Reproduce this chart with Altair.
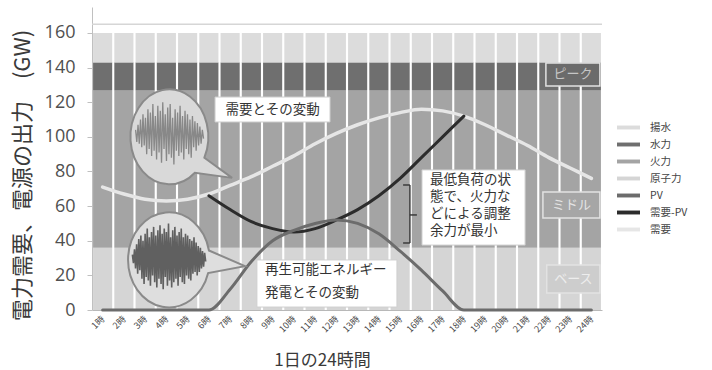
import itertools

import altair as alt
import pandas as pd

JP = "Noto Sans CJK JP"

# hours of the day
HOURS = list(range(1, 25))

# supply stack, bottom to top (GW)
SUPPLY_NAMES = ["原子力", "火力", "水力", "揚水"]
SUPPLY_GW = [36, 91, 16, 17]

# demand and PV output per hour (GW)
DEMAND = [71, 67, 64, 63, 64, 67, 72, 77, 83, 89, 96, 102,
          107, 111, 114, 116, 115, 112, 107, 101, 95, 88, 82, 76]
PV_OUT = [0, 0, 0, 0, 0, 0, 12, 28, 40, 46, 50, 52,
          50, 44, 34, 23, 11, 0, 0, 0, 0, 0, 0, 0]

# demand net of PV over the daylight hours (GW)
NET_HOURS = list(range(6, 19))
NET_DEMAND = [66, 58, 51, 47, 45, 47, 52, 58, 66, 76, 88, 100, 112]

LEGEND_ORDER = ["揚水", "水力", "火力", "原子力", "PV", "需要-PV", "需要"]
LEGEND_COLORS = ["#dcdcdc", "#6f6f6f", "#a4a4a4", "#d5d5d5",
                 "#6c6c6c", "#2c2c2c", "#e6e6e6"]

# fluctuation sketches drawn inside the two bubbles (GW deviation)
DEMAND_SWING = [3, -4, 6, -5, 9, -7, 12, -6, 10, -11, 15, -8, 13, -12, 18, -9,
                11, -14, 17, -10, 14, -16, 19, -8, 12, -15, 16, -11, 18, -13,
                10, -17, 15, -9, 13, -12, 17, -10, 11, -14, 14, -8, 12, -11,
                9, -13, 11, -7, 8, -9, 7, -6, 5, -5, 3, -2]
RENEW_SWING = [2, -3, 5, -6, 8, -9, 11, -7, 13, -12, 10, -15, 14, -11, 17, -13,
               12, -16, 15, -10, 18, -14, 13, -17, 16, -12, 19, -15, 14, -18,
               17, -11, 15, -16, 20, -13, 12, -17, 16, -14, 18, -12, 13, -16,
               15, -11, 17, -14, 12, -15, 14, -10, 13, -12, 11, -13, 10, -9,
               12, -8, 9, -10, 7, -8, 6, -6, 4, -5, 3, -2]

# ---- tables -------------------------------------------------------------
tops = list(itertools.accumulate(SUPPLY_GW))
bottoms = [0] + tops[:-1]
supply_df = pd.DataFrame(
    [{"hour": h, "series": n, "lo": lo, "hi": hi}
     for h in HOURS for n, lo, hi in zip(SUPPLY_NAMES, bottoms, tops)]
)
demand_df = pd.DataFrame({"hour": HOURS, "value": DEMAND, "series": "需要"})
pv_df = pd.DataFrame({"hour": HOURS, "value": PV_OUT, "series": "PV"})
net_df = pd.DataFrame({"hour": NET_HOURS, "value": NET_DEMAND, "series": "需要-PV"})


def swing_table(values, x0, x1, y0):
    n = len(values)
    return pd.DataFrame({
        "x": [x0 + (x1 - x0) * i / (n - 1) for i in range(n)],
        "y": [y0 + v for v in values],
    })


# ---- scales and guides --------------------------------------------------
x_scale = alt.Scale(domain=[0.5, 24.5], nice=False, zero=False)
y_scale = alt.Scale(domain=[0, 175], nice=False)
color_scale = alt.Scale(domain=LEGEND_ORDER, range=LEGEND_COLORS)

X_TITLE = "1日の24時間"
Y_TITLE = "電力需要、電源の出力　(GW)"

x_axis = alt.Axis(
    values=HOURS, labelExpr="datum.value + '時'", labelAngle=315,
    labelAlign="right", labelBaseline="middle", labelFont=JP,
    labelFontSize=9, labelColor="#4a4a4a", labelPadding=7, labelOverlap=False,
    labelBound=False, ticks=False, grid=False, domainColor="#b8b8b8",
    title=X_TITLE, titleFont=JP, titleFontSize=17,
    titleFontWeight="normal", titleColor="#3a3a3a",
    titleX=230, titleY=50, titleAlign="center", titleBaseline="middle",
)
y_axis = alt.Axis(
    values=[0, 20, 40, 60, 80, 100, 120, 140, 160], labelFont="Open Sans",
    labelFontSize=18, labelColor="#505050", labelPadding=12, tickSize=5,
    labelOverlap=False, labelBound=False,
    tickColor="#c0c0c0", domainColor="#c0c0c0", grid=False,
    title=Y_TITLE, titleFont=JP, titleFontSize=22,
    titleFontWeight="normal", titleColor="#3a3a3a", titleAngle=270,
    titleX=-70, titleY=168, titleAlign="center", titleBaseline="middle",
)
legend = alt.Legend(
    title=None, orient="none", legendX=525, legendY=109,
    symbolType="M-1,-0.17H1V0.17H-1Z", symbolSize=529, symbolStrokeWidth=0,
    labelFont=JP, labelFontSize=10.5, labelColor="#444", labelOffset=10,
    rowPadding=-7,
)


# every layer carries the same axis definitions so they merge cleanly
def X(field):
    return alt.X(field, scale=x_scale, axis=x_axis, title=X_TITLE)


def Y(field):
    return alt.Y(field, scale=y_scale, axis=y_axis, title=Y_TITLE)


# ---- layers -------------------------------------------------------------
bars = alt.Chart(supply_df).transform_calculate(
    x0="datum.hour - 0.45", x1="datum.hour + 0.45"
).mark_rect().encode(
    x=X("x0:Q"),
    x2="x1:Q",
    y=Y("lo:Q"),
    y2="hi:Q",
    color=alt.Color("series:N", scale=color_scale, legend=legend),
)

top_rule = alt.Chart(pd.DataFrame({"v": [165]})).mark_rule(
    color="#d6d6d6", strokeWidth=1.5
).encode(y=Y("v:Q"))


def curve(df, width):
    return alt.Chart(df).mark_line(
        interpolate="monotone", strokeWidth=width, strokeCap="round"
    ).encode(x=X("hour:Q"), y=Y("value:Q"),
             color=alt.Color("series:N", scale=color_scale, legend=legend))


demand_line = curve(demand_df, 3.5)
pv_line = curve(pv_df, 3)
net_line = curve(net_df, 3)

# speech bubbles: ellipse with a pointer, in symbol units
BUBBLE_TOP = ("M0.746,0.435L1.33,0.86L0.547,0.751"
              "A0.82,1 0 1 1 0.746,0.435Z")
BUBBLE_BOTTOM = ("M0.843,-0.199L1.6,0.13L0.826,0.276"
                 "A0.86,1 0 1 1 0.843,-0.199Z")


def bubble(x, y, path, fill):
    return alt.Chart(pd.DataFrame({"x": [x], "y": [y]})).mark_point(
        shape=path, size=9025, filled=True, fill=fill, stroke="#8a8a8a",
        strokeWidth=2, opacity=1, fillOpacity=1, strokeOpacity=1,
    ).encode(x=X("x:Q"), y=Y("y:Q"))


def swing(df, color, width):
    return alt.Chart(df).mark_line(
        color=color, strokeWidth=width, interpolate="linear"
    ).encode(x=X("x:Q"), y=Y("y:Q"), order="x:Q")


bubble_top = bubble(4.12, 99.9, BUBBLE_TOP, "#d9d9d9")
swing_top = swing(swing_table(DEMAND_SWING, 2.55, 5.75, 101), "#888888", 1.3)
bubble_bot = bubble(4.12, 28.9, BUBBLE_BOTTOM, "#dedede")
swing_bot = swing(swing_table(RENEW_SWING, 2.4, 5.85, 30), "#606060", 1.6)

# white call-out boxes
callouts = pd.DataFrame([
    {"x0": 6.29, "x1": 11.7, "y0": 108.6, "y1": 123.0},
    {"x0": 16.03, "x1": 20.88, "y0": 37.5, "y1": 80.9},
    {"x0": 8.26, "x1": 14.85, "y0": 1.7, "y1": 28.9},
])
boxes = alt.Chart(callouts).mark_rect(
    fill="white", stroke="#cfcfcf", strokeWidth=1
).encode(x=X("x0:Q"), x2="x1:Q", y=Y("y0:Q"), y2="y1:Q")


def note(x, y, text, align, size, line_height=None):
    # y is the middle of the first line
    props = dict(align=align, baseline="middle", font=JP, fontSize=size,
                 color="#333", text=text, lineBreak="\n")
    if line_height is not None:
        props["lineHeight"] = line_height
    return alt.Chart(pd.DataFrame({"x": [x], "y": [y]})).mark_text(
        **props).encode(x=X("x:Q"), y=Y("y:Q"))


note_demand = note(9.0, 115.8, "需要とその変動", "center", 13.5)
note_min = note(16.41, 74.8, "最低負荷の状\n態で、火力な\nどによる調整\n余力が最小",
                "left", 13.5, 17)
note_renew = note(8.64, 23.1, "再生可能エネルギー\n発電とその変動", "left",
                  13.5, 23)

# curly bracket beside the minimum-load note
brace_df = pd.DataFrame([
    {"x0": 15.46, "x1": 15.46, "y0": 38.7, "y1": 72.2},
    {"x0": 15.14, "x1": 15.46, "y0": 72.2, "y1": 72.2},
    {"x0": 15.14, "x1": 15.46, "y0": 38.7, "y1": 38.7},
    {"x0": 15.46, "x1": 15.79, "y0": 54.9, "y1": 54.9},
])
brace = alt.Chart(brace_df).mark_rule(color="#333", strokeWidth=1.4).encode(
    x=X("x0:Q"), x2="x1:Q", y=Y("y0:Q"), y2="y1:Q")

# band tags on the right edge
TAGS = [
    ("ピーク", 21.86, 129.4, 142.7, "#6b6b6b", "#c6c6c6"),
    ("ミドル", 21.72, 53.1, 68.2, "#a6a6a6", "#e4e4e4"),
    ("ベース", 21.9, 9.8, 26.0, "#cdcdcd", "#ededed"),
]
tag_layers = []
for label, x0, y0, y1, fill, ink in TAGS:
    df = pd.DataFrame({"x0": [x0], "x1": [24.4], "y0": [y0], "y1": [y1],
                       "xm": [(x0 + 24.4) / 2], "ym": [(y0 + y1) / 2]})
    tag_layers.append(alt.Chart(df).mark_rect(
        fill=fill, stroke="#e2e2e2", strokeWidth=1.5
    ).encode(x=X("x0:Q"), x2="x1:Q", y=Y("y0:Q"), y2="y1:Q"))
    tag_layers.append(alt.Chart(df).mark_text(
        text=label, font=JP, fontSize=13, color=ink, align="center",
        baseline="middle"
    ).encode(x=X("xm:Q"), y=Y("ym:Q")))

chart = alt.layer(
    bars, top_rule, *tag_layers, demand_line, net_line, pv_line,
    bubble_top, swing_top, bubble_bot, swing_bot,
    boxes, note_demand, note_min, note_renew, brace,
).properties(
    width=510, height=303,
    padding={"left": 92, "top": 7, "right": 110, "bottom": 60},
    autosize=alt.AutoSizeParams(type="none"),
    background="white",
).configure_view(strokeWidth=0).configure_axis(
    labelOverlap=False, labelBound=False
)

chart.save("out.html", embed_options={"renderer": "svg", "actions": False})
